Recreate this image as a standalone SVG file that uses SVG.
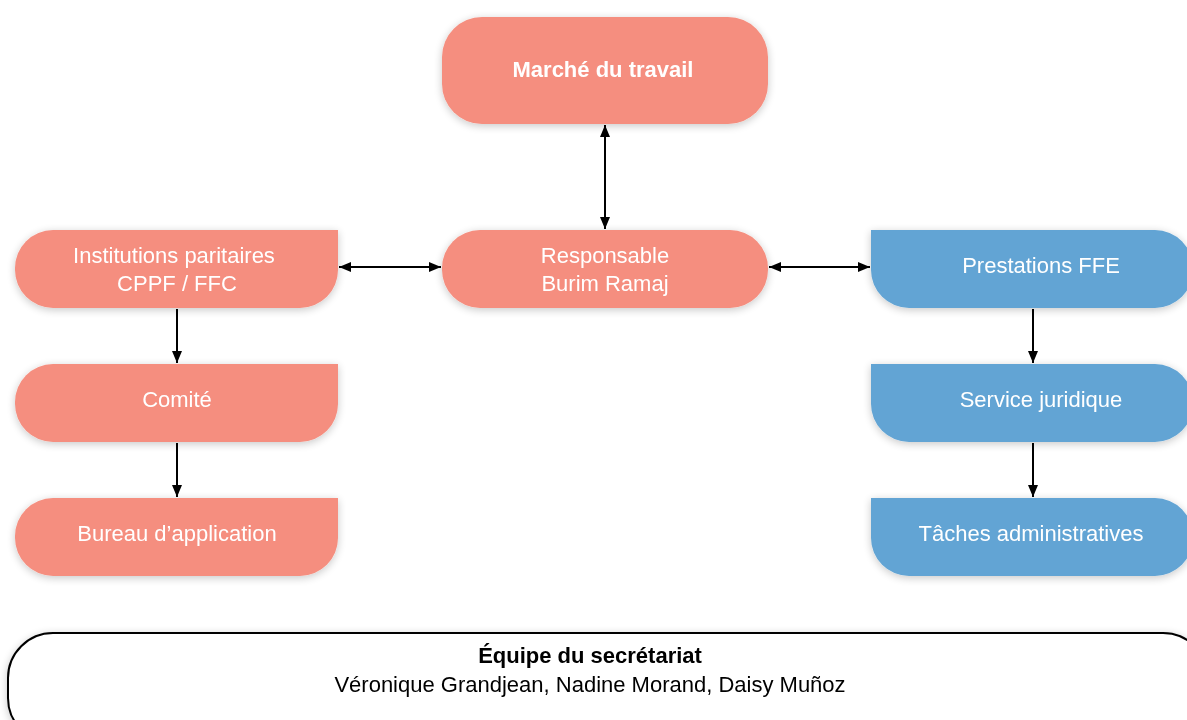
<svg xmlns="http://www.w3.org/2000/svg" width="1187" height="720" viewBox="0 0 1187 720">
<defs>
<filter id="sh" x="-10%" y="-20%" width="120%" height="140%">
<feGaussianBlur in="SourceAlpha" stdDeviation="4"/>
<feOffset dx="0" dy="2" result="b"/>
<feComponentTransfer><feFuncA type="linear" slope="0.22"/></feComponentTransfer>
<feMerge><feMergeNode/><feMergeNode in="SourceGraphic"/></feMerge>
</filter>
<marker id="ah" viewBox="0 0 12 10" refX="12" refY="5" markerWidth="12" markerHeight="10" orient="auto-start-reverse" markerUnits="userSpaceOnUse">
<path d="M0,0 L12,5 L0,10 Z" fill="#000"/>
</marker>
</defs>
<style>
.red{fill:#F58E7F}
.blue{fill:#62A4D4}
.t{font-family:"Liberation Sans",Arial,sans-serif;font-size:22px;fill:#fff;text-anchor:middle}
.b{font-weight:bold}
.c{stroke:#000;stroke-width:2;fill:none;marker-start:url(#ah);marker-end:url(#ah)}
.c1{stroke:#000;stroke-width:2;fill:none;marker-end:url(#ah)}
.bt{font-family:"Liberation Sans",Arial,sans-serif;font-size:22px;fill:#000;text-anchor:middle}
</style>
<rect width="1187" height="720" fill="#fff"/>
<g id="marche" filter="url(#sh)">
<rect class="red" x="442" y="17" width="326" height="107" rx="40"/>
<text class="t b" x="603" y="77">Marché du travail</text>
</g>
<g id="responsable" filter="url(#sh)">
<rect class="red" x="442" y="230" width="326" height="78" rx="38"/>
<text class="t" x="605" y="263">Responsable</text>
<text class="t" x="605" y="291">Burim Ramaj</text>
</g>
<g id="institutions" filter="url(#sh)">
<path class="red" d="M15,268 A38,38 0 0 1 53,230 L338,230 L338,270 A38,38 0 0 1 300,308 L53,308 A38,38 0 0 1 15,270 Z"/>
<text class="t" x="174" y="263">Institutions paritaires</text>
<text class="t" x="177" y="291">CPPF / FFC</text>
</g>
<g id="comite" filter="url(#sh)">
<path class="red" d="M15,402 A38,38 0 0 1 53,364 L338,364 L338,404 A38,38 0 0 1 300,442 L53,442 A38,38 0 0 1 15,404 Z"/>
<text class="t" x="177" y="407">Comité</text>
</g>
<g id="bureau" filter="url(#sh)">
<path class="red" d="M15,536 A38,38 0 0 1 53,498 L338,498 L338,538 A38,38 0 0 1 300,576 L53,576 A38,38 0 0 1 15,538 Z"/>
<text class="t" x="177" y="541">Bureau d’application</text>
</g>
<g id="prestations" filter="url(#sh)">
<path class="blue" d="M871,230 L1155,230 A38,38 0 0 1 1193,268 L1193,270 A38,38 0 0 1 1155,308 L909,308 A38,38 0 0 1 871,270 Z"/>
<text class="t" x="1041" y="273">Prestations FFE</text>
</g>
<g id="service" filter="url(#sh)">
<path class="blue" d="M871,364 L1155,364 A38,38 0 0 1 1193,402 L1193,404 A38,38 0 0 1 1155,442 L909,442 A38,38 0 0 1 871,404 Z"/>
<text class="t" x="1041" y="407">Service juridique</text>
</g>
<g id="taches" filter="url(#sh)">
<path class="blue" d="M871,498 L1155,498 A38,38 0 0 1 1193,536 L1193,538 A38,38 0 0 1 1155,576 L909,576 A38,38 0 0 1 871,538 Z"/>
<text class="t" x="1031" y="541">Tâches administratives</text>
</g>
<g id="equipe" filter="url(#sh)">
<rect x="8" y="633" width="1200" height="110" rx="45" fill="#fff" stroke="#000" stroke-width="2"/>
<text class="bt b" x="590" y="663">Équipe du secrétariat</text>
<text class="bt" x="590" y="692">Véronique Grandjean, Nadine Morand, Daisy Muñoz</text>
</g>
<g id="connectors">
<path class="c" d="M605,125 L605,229"/>
<path class="c" d="M339,267 L441,267"/>
<path class="c" d="M769,267 L870,267"/>
<path class="c1" d="M177,309 L177,363"/>
<path class="c1" d="M177,443 L177,497"/>
<path class="c1" d="M1033,309 L1033,363"/>
<path class="c1" d="M1033,443 L1033,497"/>
</g>
</svg>
